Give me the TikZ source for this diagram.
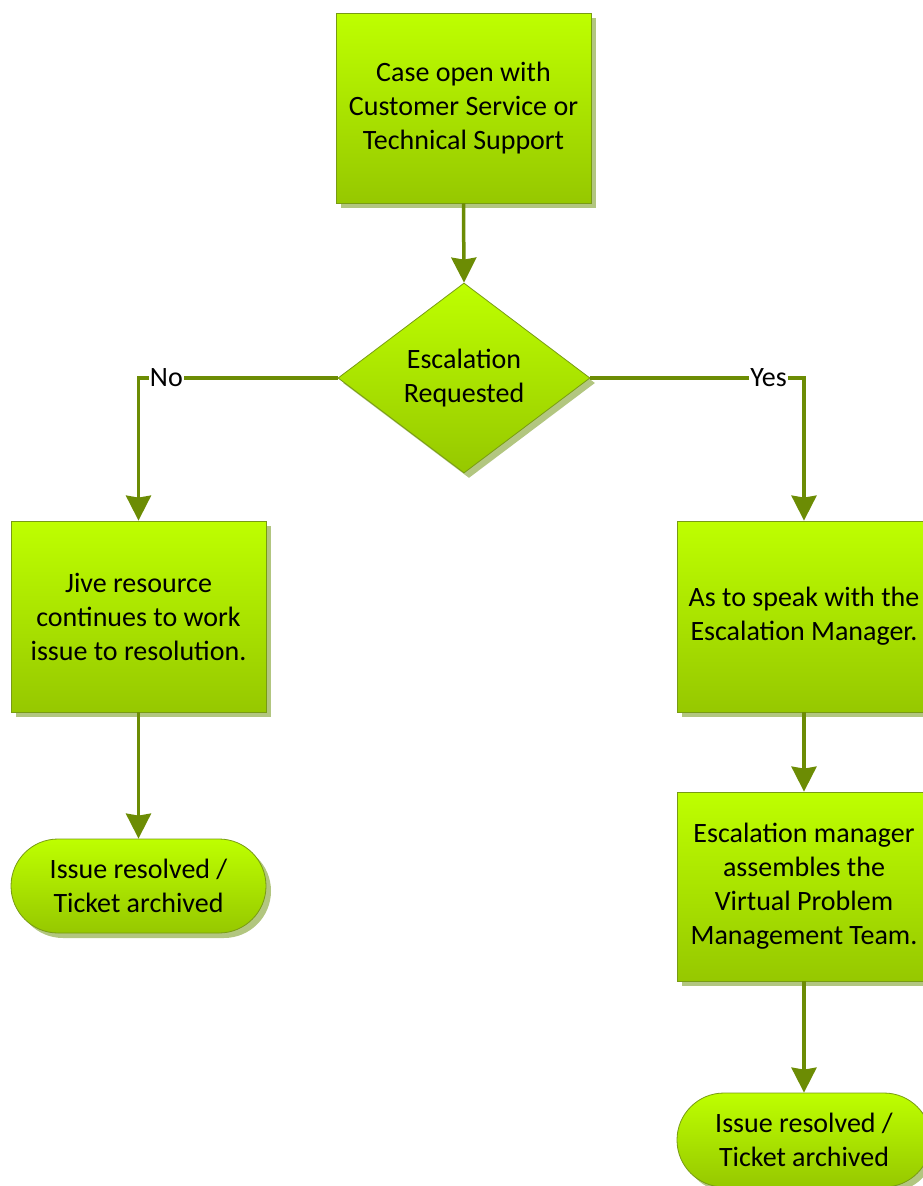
\documentclass[tikz,border=0pt]{standalone}
\usepackage{fontspec}
\setmainfont{Carlito}
\usetikzlibrary{shapes.geometric,shapes.misc,shadows,arrows.meta}
\definecolor{gtop}{RGB}{190,255,0}
\definecolor{gbot}{RGB}{150,200,0}
\definecolor{edgec}{RGB}{120,155,20}
\definecolor{linec}{RGB}{108,140,4}
\definecolor{shadc}{RGB}{178,198,128}
\begin{document}
\begin{tikzpicture}[x=1pt,y=-1pt,
  base/.style={draw=edgec, line width=0.8pt, top color=gtop, bottom color=gbot, align=center,
    font=\fontsize{28}{34}\selectfont, inner sep=0pt,
    drop shadow={shadow xshift=5pt, shadow yshift=-5pt, fill=shadc, opacity=1}},
  proc/.style={base, rectangle, minimum width=255pt, minimum height=190pt},
  decis/.style={base, diamond, minimum width=252pt, minimum height=190pt},
  term/.style={base, rounded rectangle, minimum width=255pt, minimum height=94pt},
  conn/.style={draw=linec, line width=3.5pt, -{Stealth[width=25pt,length=25pt,inset=2pt]}},
  lbl/.style={fill=white, inner sep=1pt, font=\fontsize{28}{34}\selectfont}
]
\useasboundingbox (0,0) rectangle (923,1186);

\node[proc] (top) at (463.5,108) {Case open with\\Customer Service or\\Technical Support};
\node[decis] (dec) at (464,378) {Escalation\\Requested};
\node[proc, minimum height=191pt] (left) at (138.5,616.5) {Jive resource\\continues to work\\issue to resolution.};
\node[proc, minimum width=254pt, minimum height=191pt] (r1) at (804,616.5) {As to speak with the\\Escalation Manager.};
\node[proc, minimum width=254pt, minimum height=189pt] (r2) at (804,886.5) {Escalation manager\\assembles the\\Virtual Problem\\Management Team.};
\node[term] (lt) at (138.5,886) {Issue resolved /\\Ticket archived};
\node[term, minimum width=254pt] (rt) at (804,1140) {Issue resolved /\\Ticket archived};

\draw[conn] (top.south) -- (dec.north);
\draw[conn] (dec.west) -| node[lbl, pos=0.43] (no) {No} (left.north);
\draw[conn] (dec.east) -| node[lbl, pos=0.417] (yes) {Yes} (r1.north);
\draw[conn] (left.south) -- (lt.north);
\draw[conn] (r1.south) -- (r2.north);
\draw[conn] (r2.south) -- (rt.north);
\end{tikzpicture}
\end{document}
